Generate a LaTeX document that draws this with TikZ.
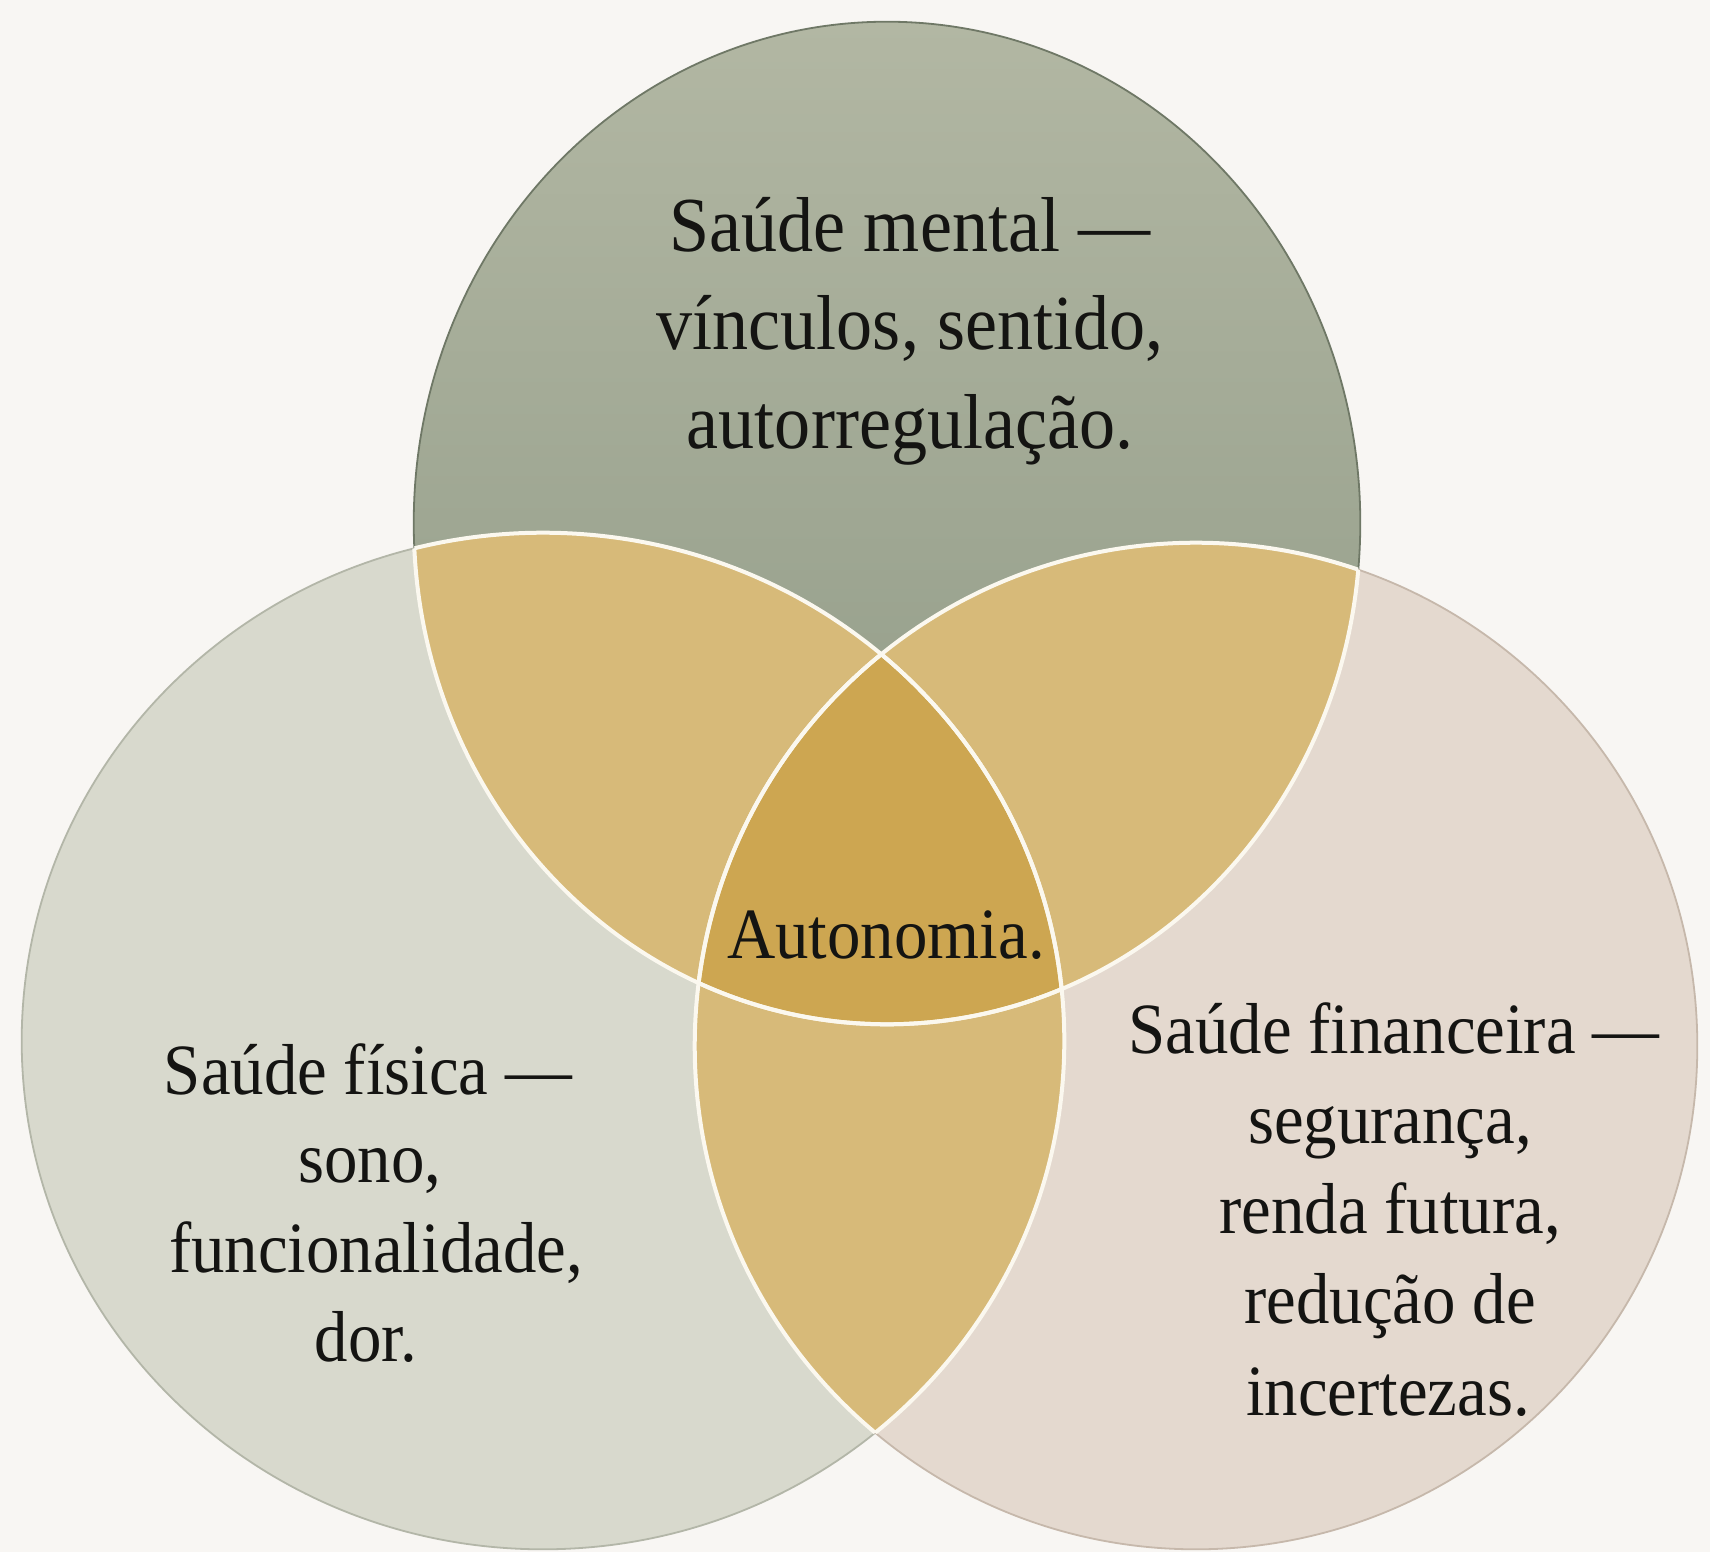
\documentclass[tikz,border=0pt]{standalone}
\usepackage{fontspec}
\usepackage{graphicx}
\setmainfont{Liberation Serif}
\definecolor{bg}{HTML}{F8F6F3}
\definecolor{mentalTop}{HTML}{B2B7A3}
\definecolor{mentalBot}{HTML}{8C9783}
\definecolor{mentalEdge}{HTML}{6F7866}
\definecolor{fisica}{HTML}{D8D9CD}
\definecolor{fisicaEdge}{HTML}{B3B6A8}
\definecolor{financ}{HTML}{E4D9CF}
\definecolor{financEdge}{HTML}{C6B8AB}
\definecolor{lens}{HTML}{D7BA79}
\definecolor{core}{HTML}{CDA651}
\definecolor{seam}{HTML}{FBF8EF}
\definecolor{ink}{HTML}{141412}
\newcommand{\tallt}[1]{\scalebox{1}[1.08]{#1}}
\begin{document}
\begin{tikzpicture}[x=0.01cm,y=-0.01cm,
  lbl/.style={anchor=base, text=ink, inner sep=0pt, font=\fontsize{19}{24}\selectfont},
  toplbl/.style={lbl, font=\fontsize{20.5}{26}\selectfont},
  seamline/.style={draw=seam, line width=0.04cm},
  edgeline/.style={line width=0.018cm}]
\def\Mental{(887,523) ellipse [x radius=4.73cm, y radius=5.01cm]}
\def\Fisica{(543,1041) ellipse [x radius=5.21cm, y radius=5.08cm]}
\def\Financ{(1196,1046) ellipse [x radius=5.01cm, y radius=5.03cm]}
\useasboundingbox (0,0) rectangle (1710,1552);
\fill[bg] (0,0) rectangle (1710,1552);
% base circles
\shade[top color=mentalTop, bottom color=mentalBot] \Mental;
\fill[fisica] \Fisica;
\fill[financ] \Financ;
% pairwise overlaps
\begin{scope}
  \clip \Mental;
  \fill[lens] \Fisica;
  \fill[lens] \Financ;
\end{scope}
\begin{scope}
  \clip \Fisica;
  \fill[lens] \Financ;
\end{scope}
% triple overlap
\begin{scope}
  \clip \Mental;
  \clip \Fisica;
  \fill[core] \Financ;
\end{scope}
% outer edges
\draw[edgeline, mentalEdge] \Mental;
\draw[edgeline, fisicaEdge] \Fisica;
\draw[edgeline, financEdge] \Financ;
% white seams inside the overlaps
\begin{scope}
  \clip \Mental;
  \draw[seamline] \Fisica;
  \draw[seamline] \Financ;
\end{scope}
\begin{scope}
  \clip \Fisica;
  \draw[seamline] \Mental;
  \draw[seamline] \Financ;
\end{scope}
\begin{scope}
  \clip \Financ;
  \draw[seamline] \Mental;
  \draw[seamline] \Fisica;
\end{scope}
% labels
\node[toplbl] (m1) at (910,252) {\tallt{Saúde mental —}};
\node[toplbl] (m2) at (910,350) {\tallt{vínculos, sentido,}};
\node[toplbl] (m3) at (910,448) {\tallt{autorregulação.}};
\node[lbl] (f1) at (368,1094) {\tallt{Saúde física —}};
\node[lbl] (f2) at (370,1182) {\tallt{sono,}};
\node[lbl] (f3) at (376,1272) {\tallt{funcionalidade,}};
\node[lbl] (f4) at (366,1361) {\tallt{dor.}};
\node[lbl] (r1) at (1394,1053) {\tallt{Saúde financeira —}};
\node[lbl] (r2) at (1390,1143) {\tallt{segurança,}};
\node[lbl] (r3) at (1390,1233) {\tallt{renda futura,}};
\node[lbl] (r4) at (1390,1323) {\tallt{redução de}};
\node[lbl] (r5) at (1388,1415) {\tallt{incertezas.}};
\node[lbl] (a1) at (886,958) {\tallt{Autonomia.}};
\end{tikzpicture}
\end{document}
